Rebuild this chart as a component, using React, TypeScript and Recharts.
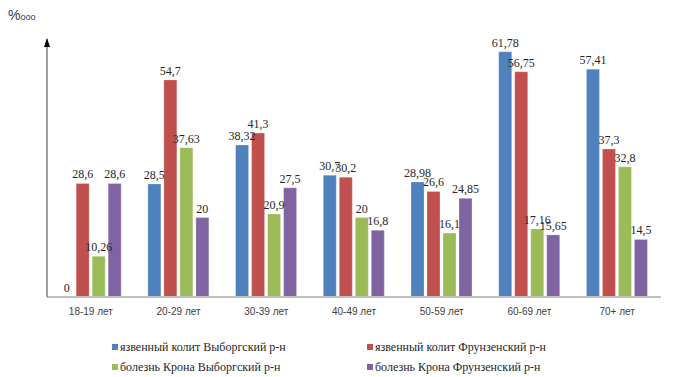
import React from "react";
import {
  BarChart,
  Bar,
  XAxis,
  YAxis,
  Legend,
  LabelList,
} from "recharts";

const ageGroups = ["18-19 лет", "20-29 лет", "30-39 лет", "40-49 лет", "50-59 лет", "60-69 лет", "70+ лет"];
const ucVyborg = [0, 28.5, 38.32, 30.7, 28.98, 61.78, 57.41];
const ucFrunze = [28.6, 54.7, 41.3, 30.2, 26.6, 56.75, 37.3];
const crohnVyborg = [10.26, 37.63, 20.9, 20, 16.1, 17.16, 32.8];
const crohnFrunze = [28.6, 20, 27.5, 16.8, 24.85, 15.65, 14.5];

const seriesNames = [
  "язвенный колит Выборгский р-н",
  "язвенный колит Фрунзенский р-н",
  "болезнь Крона Выборгский р-н",
  "болезнь Крона Фрунзенский р-н",
];
const colors = ["#4F81BD", "#C0504D", "#9BBB59", "#8064A2"];
const keys = ["ucV", "ucF", "cdV", "cdF"];

const data = ageGroups.map((age, i) => ({
  age,
  ucV: ucVyborg[i],
  ucF: ucFrunze[i],
  cdV: crohnVyborg[i],
  cdF: crohnFrunze[i],
}));

const serif = "'Liberation Serif', 'DejaVu Serif', serif";
const fmt = (v: any) => String(v).replace(".", ",");

// arrow on top of the y axis plus the unit sign
const AxisArrow = (props: any) => {
  const { viewBox } = props;
  if (!viewBox) return null;
  const x = viewBox.x + viewBox.width;
  const y = viewBox.y;
  return (
    <g>
      <polygon points={`${x - 3},${y + 8} ${x + 3},${y + 8} ${x},${y - 1}`} fill="#000" />
      <text x={8} y={20} fontFamily="Liberation Sans" fontSize={14} fill="#1F3864">
        %<tspan fontSize={9}>ooo</tspan>
      </text>
    </g>
  );
};

const LegendBox = () => (
  <div
    style={{
      display: "grid",
      gridTemplateColumns: "255px 260px",
      paddingLeft: 112,
      height: 40,
      fontFamily: serif,
      fontSize: 12,
      color: "#262626",
      lineHeight: "16px",
    }}
  >
    {[0, 1, 2, 3].map((i) => (
      <div key={i} style={{ display: "flex", alignItems: "center", whiteSpace: "nowrap" }}>
        <span style={{ width: 6, height: 6, background: colors[i], marginRight: 2, display: "inline-block" }} />
        {seriesNames[i]}
      </div>
    ))}
  </div>
);

export default function App() {
  return (
    <div style={{ position: "absolute", left: 0, top: 0, background: "#fff" }}>
      <BarChart
        width={694}
        height={377}
        data={data}
        margin={{ top: 39, right: 33, left: 45, bottom: 20 }}
        barCategoryGap="15%"
        barGap={3}
      >
        <XAxis
          dataKey="age"
          height={20}
          tickLine={false}
          tickMargin={5}
          axisLine={{ stroke: "#BFBFBF", strokeWidth: 2 }}
          tick={{ fontFamily: "Liberation Sans", fontSize: 10, fill: "#404040" }}
          interval={0}
        />
        <YAxis
          width={2}
          domain={[0, 65]}
          tick={false}
          tickLine={false}
          axisLine={{ stroke: "#808080", strokeWidth: 1.5 }}
          label={<AxisArrow />}
        />
        <Legend
          content={<LegendBox />}
          verticalAlign="bottom"
          wrapperStyle={{ top: 337, left: 0, width: 694, height: 40 }}
        />
        {keys.map((k, i) => (
          <Bar
            key={k}
            dataKey={k}
            name={seriesNames[i]}
            fill={colors[i]}
            stroke="#ffffff"
            strokeOpacity={0.5}
            strokeWidth={0.5}
            minPointSize={0.1}
            isAnimationActive={false}
          >
            <LabelList
              dataKey={k}
              position="top"
              offset={5}
              formatter={fmt}
              style={{ fontFamily: serif, fontSize: 12, fill: "#262626" }}
            />
          </Bar>
        ))}
      </BarChart>
    </div>
  );
}
